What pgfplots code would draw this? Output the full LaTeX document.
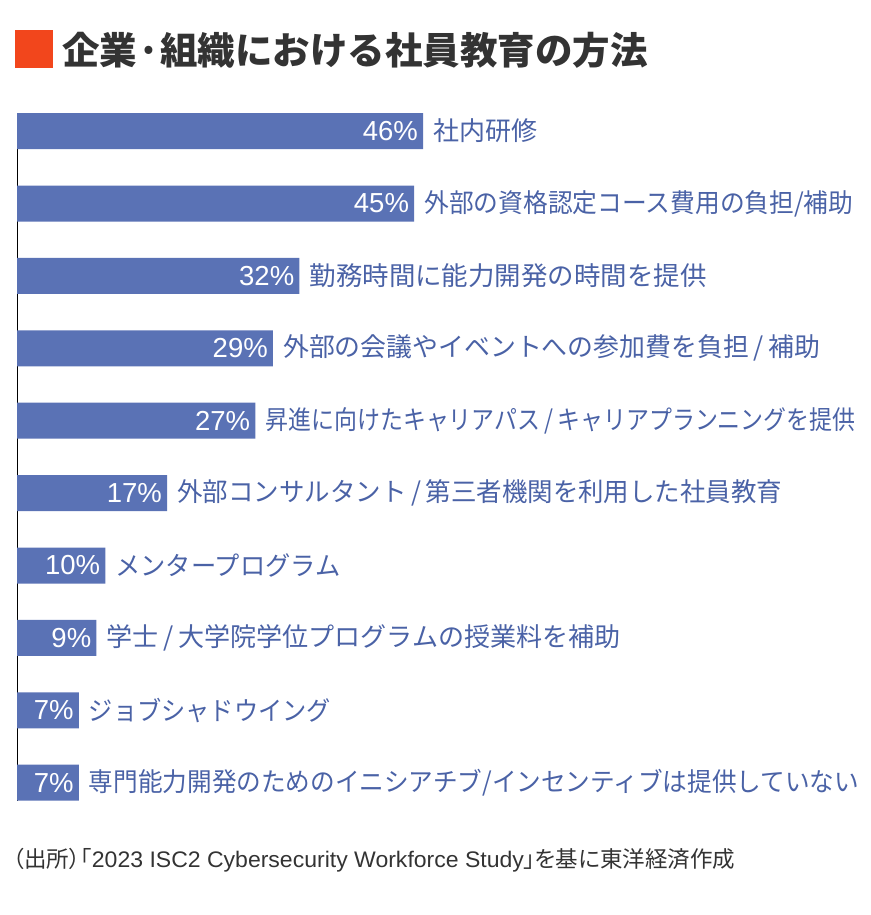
\documentclass[border=0pt]{standalone}
\usepackage{pgfplots}
\usepackage{pgfplotstable}
\usepackage{graphicx}
\pgfplotsset{compat=1.18}
\usepackage{fontspec}
\setmainfont{Noto Sans CJK JP}
\newfontfamily\jpp{Noto Sans CJK JP}[RawFeature=+palt]
\newfontfamily\lat{Liberation Sans}
\definecolor{barblue}{HTML}{5A72B5}
\definecolor{labblue}{HTML}{4A62A6}
\definecolor{titlegray}{HTML}{333333}
\definecolor{accent}{HTML}{F2461C}
\protected\def\sls{\hspace{0.18em}/\hspace{0.18em}}
\pgfplotstableread[col sep=comma]{
idx,val,w,label
0,46,104,社内研修
1,45,429,外部の資格認定コース費用の負担/補助
2,32,397,勤務時間に能力開発の時間を提供
3,29,537,外部の会議やイベントへの参加費を負担\sls 補助
4,27,590,昇進に向けたキャリアパス\sls キャリアプランニングを提供
5,17,605,外部コンサルタント\sls 第三者機関を利用した社員教育
6,10,225,メンタープログラム
7,9,514,学士\sls 大学院学位プログラムの授業料を補助
8,7,242,ジョブシャドウイング
9,7,770,専門能力開発のためのイニシアチブ/インセンティブは提供していない
}\datatable
\begin{document}
\begin{tikzpicture}[x=1pt,y=1pt]
\useasboundingbox (0,0) rectangle (870,-915);
\fill[accent] (15,-30) rectangle (53,-68);
\node[anchor=west,inner sep=0,text=titlegray,font=\fontsize{37.5}{37.5}\selectfont\bfseries] at (62,-50) {企業·組織における社員教育の方法};
\begin{axis}[
  at={(17pt,-800.8pt)}, anchor=south west,
  scale only axis, width=847.3pt, height=687.8pt,
  xmin=0, xmax=96, ymin=-0.25, ymax=9.25, y dir=reverse,
  axis x line=none, axis y line=left,
  axis line style={-, black, line width=1pt},
  ytick=\empty, xtick=\empty,
  clip=false,
  /pgf/number format/assume math mode=true,
]
\addplot[xbar, bar width=36pt, bar shift=0pt, fill=barblue, draw=none,
  point meta=x,
  nodes near coords={\pgfmathprintnumber{\pgfplotspointmeta}\%},
  every node near coord/.append style={anchor=east, xshift=-5pt, text=white, inner sep=0pt,
    font=\lat\fontsize{27.5}{27.5}\selectfont},
] table[x=val, y=idx] {\datatable};
\addplot[draw=none, mark=none,
  point meta=explicit symbolic,
  visualization depends on={\thisrow{w} \as \lw},
  nodes near coords={\resizebox{\lw pt}{\height}{\pgfplotspointmeta}},
  every node near coord/.append style={anchor=west, xshift=10pt, text=labblue, inner sep=0pt,
    font=\fontsize{26}{26}\selectfont},
] table[x=val, y=idx, meta=label] {\datatable};
\end{axis}
\node[anchor=west,inner sep=0,text=titlegray,font=\jpp\fontsize{22.5}{22.5}\selectfont] at (13,-860) {（出所）「\resizebox{432pt}{\height}{\lat 2023 ISC2 Cybersecurity Workforce Study}」を基に東洋経済作成};
\end{tikzpicture}
\end{document}
